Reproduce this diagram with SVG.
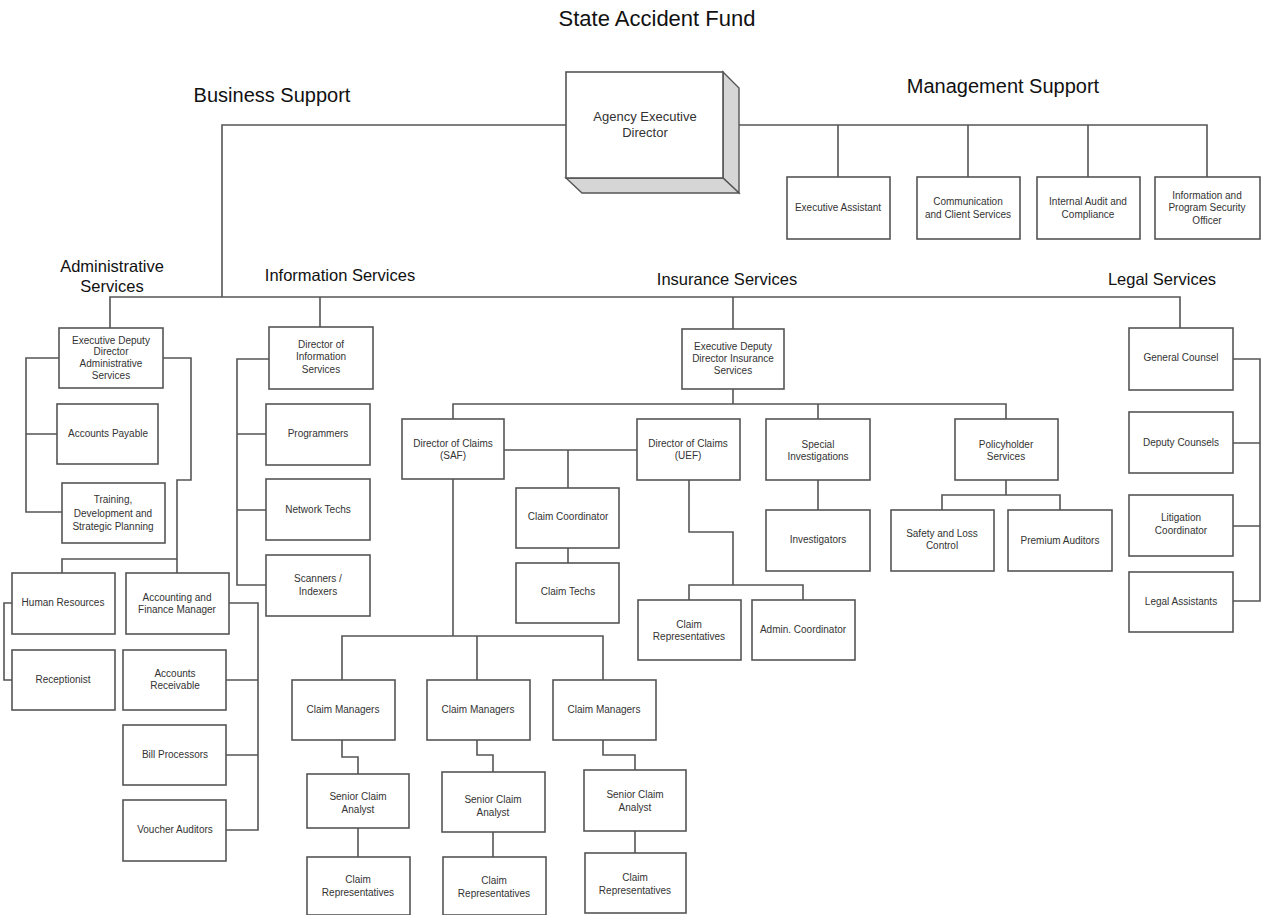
<svg xmlns="http://www.w3.org/2000/svg" width="1262" height="915" viewBox="0 0 1262 915">
<style>
.box{fill:#fff;stroke:#555;stroke-width:1.6}
.ln{fill:none;stroke:#555;stroke-width:1.6}
.t{font-family:"Liberation Sans",Arial,sans-serif;font-size:10px;fill:#333;text-anchor:middle}
.h{font-family:"Liberation Sans",Arial,sans-serif;font-size:16.5px;fill:#111;text-anchor:middle}
.h2{font-family:"Liberation Sans",Arial,sans-serif;font-size:20px;fill:#111;text-anchor:middle}
.side{fill:#d6d6d6;stroke:#555;stroke-width:1.4}
</style>
<rect width="1262" height="915" fill="#fff"/>
<text class="h" x="657" y="26" style="font-size:22px">State Accident Fund</text>
<text class="h2" x="272" y="102">Business Support</text>
<text class="h2" x="1003" y="93">Management Support</text>
<text class="h" x="112" y="272">Administrative</text>
<text class="h" x="112" y="292">Services</text>
<text class="h" x="340" y="281">Information Services</text>
<text class="h" x="727" y="285">Insurance Services</text>
<text class="h" x="1162" y="285">Legal Services</text>

<g id="connectors">
<path class="ln" d="M566,125 H222 V297"/>
<path class="ln" d="M739,125 H1207 V177 M838,125 V177 M968,125 V177 M1088,125 V177"/>
<path class="ln" d="M110,328 V297 H1180 V328 M320,297 V327 M733,297 V329"/>
<path class="ln" d="M59,358 H26 V512 H62 M26,434 H57"/>
<path class="ln" d="M163,358 H191 V480 H177 V573 M62,573 V559 H177"/>
<path class="ln" d="M12,603 H4 V680 H12"/>
<path class="ln" d="M229,603 H258 V830 H226 M226,680 H258 M226,755 H258"/>
<path class="ln" d="M269,359 H237 V585 H266 M237,434 H266 M237,510 H266"/>
<path class="ln" d="M733,389 V404 M453,419 V404 H1006 V419 M818,404 V419"/>
<path class="ln" d="M504,450 H637 M568,450 V488 M568,548 V563"/>
<path class="ln" d="M689,480 V532 H733 V585 M689,600 V585 H803 V600"/>
<path class="ln" d="M818,480 V510"/>
<path class="ln" d="M1006,480 V495 M942,510 V495 H1060 V510"/>
<path class="ln" d="M453,479 V636 M342,680 V636 H603 V680 M477,636 V680"/>
<path class="ln" d="M342,740 V757 H358 V774 M358,828 V857"/>
<path class="ln" d="M477,740 V755 H493 V772 M493,832 V857"/>
<path class="ln" d="M603,740 V755 H635 V770 M635,831 V853"/>
<path class="ln" d="M1233,359 H1260 V601 H1233 M1233,443 H1260 M1233,526 H1260"/>
</g>

<g id="agency">
<polygon class="side" points="723,72 739,88 739,193 723,178"/>
<polygon class="side" points="566,178 723,178 739,193 582,193"/>
<rect class="box" x="566" y="72" width="157" height="106"/>
<text class="t" x="645" y="121" style="font-size:13px">Agency Executive</text>
<text class="t" x="645" y="137" style="font-size:13px">Director</text>
</g>

<g id="ea"><rect class="box" x="787" y="177" width="103" height="62"/><text class="t" x="838" y="211">Executive Assistant</text></g>
<g id="ccs"><rect class="box" x="917" y="177" width="103" height="62"/><text class="t" x="968" y="205">Communication</text><text class="t" x="968" y="218">and Client Services</text></g>
<g id="iac"><rect class="box" x="1037" y="177" width="103" height="62"/><text class="t" x="1088" y="205">Internal Audit and</text><text class="t" x="1088" y="218">Compliance</text></g>
<g id="ipso"><rect class="box" x="1155" y="177" width="105" height="62"/><text class="t" x="1207" y="199">Information and</text><text class="t" x="1207" y="211">Program Security</text><text class="t" x="1207" y="224">Officer</text></g>

<g id="edas"><rect class="box" x="59" y="328" width="104" height="60"/><text class="t" x="111" y="344">Executive Deputy</text><text class="t" x="111" y="355">Director</text><text class="t" x="111" y="367">Administrative</text><text class="t" x="111" y="379">Services</text></g>
<g id="ap"><rect class="box" x="57" y="404" width="101" height="60"/><text class="t" x="108" y="437">Accounts Payable</text></g>
<g id="tdsp"><rect class="box" x="62" y="483" width="103" height="60"/><text class="t" x="113" y="503">Training,</text><text class="t" x="113" y="517">Development and</text><text class="t" x="113" y="530">Strategic Planning</text></g>
<g id="hr"><rect class="box" x="12" y="573" width="103" height="61"/><text class="t" x="63" y="606">Human Resources</text></g>
<g id="afm"><rect class="box" x="126" y="573" width="103" height="61"/><text class="t" x="177" y="601">Accounting and</text><text class="t" x="177" y="613">Finance Manager</text></g>
<g id="rec"><rect class="box" x="12" y="650" width="103" height="60"/><text class="t" x="63" y="683">Receptionist</text></g>
<g id="ar"><rect class="box" x="123" y="650" width="103" height="60"/><text class="t" x="175" y="677">Accounts</text><text class="t" x="175" y="689">Receivable</text></g>
<g id="bp"><rect class="box" x="123" y="725" width="103" height="60"/><text class="t" x="175" y="758">Bill Processors</text></g>
<g id="va"><rect class="box" x="123" y="800" width="103" height="61"/><text class="t" x="175" y="833">Voucher Auditors</text></g>

<g id="dis"><rect class="box" x="269" y="327" width="104" height="62"/><text class="t" x="321" y="348">Director of</text><text class="t" x="321" y="360">Information</text><text class="t" x="321" y="373">Services</text></g>
<g id="prog"><rect class="box" x="266" y="404" width="104" height="61"/><text class="t" x="318" y="437">Programmers</text></g>
<g id="nt"><rect class="box" x="266" y="479" width="104" height="61"/><text class="t" x="318" y="513">Network Techs</text></g>
<g id="si"><rect class="box" x="266" y="555" width="104" height="61"/><text class="t" x="318" y="582">Scanners /</text><text class="t" x="318" y="595">Indexers</text></g>

<g id="eddis"><rect class="box" x="682" y="329" width="102" height="60"/><text class="t" x="733" y="350">Executive Deputy</text><text class="t" x="733" y="362">Director Insurance</text><text class="t" x="733" y="374">Services</text></g>
<g id="dcsaf"><rect class="box" x="402" y="419" width="102" height="60"/><text class="t" x="453" y="447">Director of Claims</text><text class="t" x="453" y="459">(SAF)</text></g>
<g id="dcuef"><rect class="box" x="637" y="419" width="103" height="61"/><text class="t" x="688" y="447">Director of Claims</text><text class="t" x="688" y="459">(UEF)</text></g>
<g id="cc"><rect class="box" x="516" y="488" width="103" height="60"/><text class="t" x="568" y="520">Claim Coordinator</text></g>
<g id="ct"><rect class="box" x="516" y="563" width="103" height="60"/><text class="t" x="568" y="595">Claim Techs</text></g>
<g id="cruef"><rect class="box" x="638" y="600" width="103" height="60"/><text class="t" x="689" y="628">Claim</text><text class="t" x="689" y="640">Representatives</text></g>
<g id="ac"><rect class="box" x="752" y="600" width="103" height="60"/><text class="t" x="803" y="633">Admin. Coordinator</text></g>
<g id="spi"><rect class="box" x="766" y="419" width="104" height="61"/><text class="t" x="818" y="448">Special</text><text class="t" x="818" y="460">Investigations</text></g>
<g id="inv"><rect class="box" x="766" y="510" width="104" height="61"/><text class="t" x="818" y="543">Investigators</text></g>
<g id="phs"><rect class="box" x="955" y="419" width="103" height="61"/><text class="t" x="1006" y="448">Policyholder</text><text class="t" x="1006" y="460">Services</text></g>
<g id="slc"><rect class="box" x="891" y="510" width="103" height="61"/><text class="t" x="942" y="537">Safety and Loss</text><text class="t" x="942" y="549">Control</text></g>
<g id="pa"><rect class="box" x="1008" y="510" width="104" height="61"/><text class="t" x="1060" y="544">Premium Auditors</text></g>

<g id="cm1"><rect class="box" x="292" y="680" width="103" height="60"/><text class="t" x="343" y="713">Claim Managers</text></g>
<g id="cm2"><rect class="box" x="427" y="680" width="103" height="60"/><text class="t" x="478" y="713">Claim Managers</text></g>
<g id="cm3"><rect class="box" x="553" y="680" width="103" height="60"/><text class="t" x="604" y="713">Claim Managers</text></g>
<g id="sca1"><rect class="box" x="307" y="774" width="102" height="54"/><text class="t" x="358" y="800">Senior Claim</text><text class="t" x="358" y="813">Analyst</text></g>
<g id="sca2"><rect class="box" x="442" y="772" width="103" height="60"/><text class="t" x="493" y="803">Senior Claim</text><text class="t" x="493" y="816">Analyst</text></g>
<g id="sca3"><rect class="box" x="584" y="770" width="102" height="61"/><text class="t" x="635" y="798">Senior Claim</text><text class="t" x="635" y="811">Analyst</text></g>
<g id="crep1"><rect class="box" x="307" y="857" width="103" height="58"/><text class="t" x="358" y="883">Claim</text><text class="t" x="358" y="896">Representatives</text></g>
<g id="crep2"><rect class="box" x="443" y="857" width="103" height="58"/><text class="t" x="494" y="884">Claim</text><text class="t" x="494" y="897">Representatives</text></g>
<g id="crep3"><rect class="box" x="585" y="853" width="101" height="60"/><text class="t" x="635" y="881">Claim</text><text class="t" x="635" y="894">Representatives</text></g>

<g id="gc"><rect class="box" x="1129" y="328" width="104" height="62"/><text class="t" x="1181" y="361">General Counsel</text></g>
<g id="dc"><rect class="box" x="1129" y="412" width="104" height="61"/><text class="t" x="1181" y="446">Deputy Counsels</text></g>
<g id="lc"><rect class="box" x="1129" y="495" width="104" height="61"/><text class="t" x="1181" y="521">Litigation</text><text class="t" x="1181" y="534">Coordinator</text></g>
<g id="la"><rect class="box" x="1129" y="572" width="104" height="60"/><text class="t" x="1181" y="605">Legal Assistants</text></g>
</svg>
